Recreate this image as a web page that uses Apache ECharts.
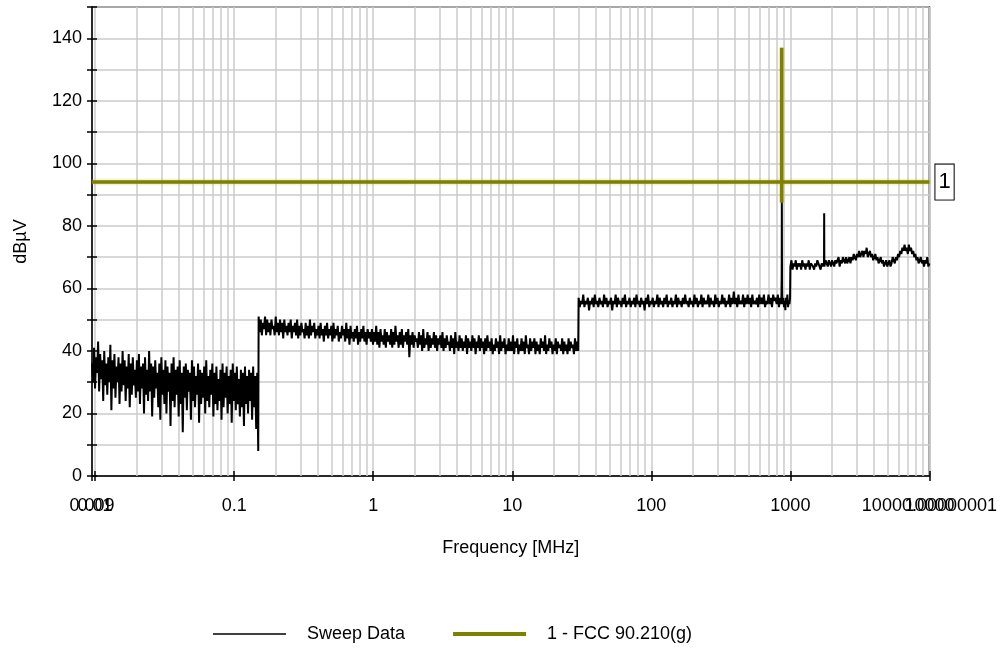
<!DOCTYPE html>
<html><head><meta charset="utf-8">
<script src="https://cdn.jsdelivr.net/npm/echarts@6/dist/echarts.min.js"></script>
<style>html,body{margin:0;padding:0;background:#fff}#c{width:1000px;height:651px}</style>
</head><body><div id="c"></div>
<script>
// ---- axis ranges and tick labels ----
const xMin = 0.0095;
const xMax = 10000.00000001;
const xTickLabels = ['0.009','0.01','0.1','1','10','100','1000','10000','10000.00000001'];
const yMin = 0, yMax = 150;

// ---- sweep data: each band is a sweep from start to stop (MHz) with read levels (dBµV) ----
const sweepEdges = [[0.0095,0.149],[0.15,29.8],[30,860],[880,995],[1000,1740],[1760,10000]];
const levels1 = [36,30,41,28,38,33,43,27,39,31,37,24,40,29,36,26,38,30,42,21,37,28,39,25,35,30,38,23,36,27,40,29,37,24,35,28,39,22,36,26,38,29,34,25,37,27,39,23,35,28,36,20,38,26,34,24,40,27,36,19,35,25,37,28,33,22,36,18,38,26,34,23,37,20,35,27,33,16,36,24,38,22,34,26,35,19,37,23,33,14,35,25,36,21,34,27,33,18,37,24,35,22,32,26,36,17,34,23,33,25,35,20,37,24,32,22,34,26,36,19,33,23,35,21,31,24,34,18,36,22,33,25,35,20,32,23,34,17,36,24,33,21,35,23,31,19,34,22,33,16,35,23,32,20,34,24,33,18,35,22,32,15,33,8];
const levels2 = [51,46,50,45,49,47,51,45,50,46,49,45,50,47,48,45,51,46,49,45,50,46,49,44,50,46,48,45,49,46,50,44,48,46,49,45,50,44,48,45,49,46,47,44,49,45,48,44,50,45,48,46,49,44,47,45,48,44,49,45,47,43,48,45,49,44,47,45,48,43,49,44,47,45,48,43,46,44,48,45,47,43,49,44,47,42,48,44,46,43,47,44,48,42,46,43,47,44,48,43,46,42,47,44,46,43,
  47,42,46,43,48,42,46,41,47,43,45,42,47,41,46,43,45,42,47,41,46,42,48,43,45,41,46,42,47,41,45,43,46,42,47,38,45,42,46,41,45,43,44,41,46,42,45,40,47,41,44,42,46,40,45,41,44,42,46,41,45,40,44,42,45,41,46,40,44,41,45,42,43,40,45,41,44,39,46,41,43,40,45,41,44,40,43,41,45,39,44,41,43,40,45,41,44,39,43,41,45,40,44,41,43,39,44,40,45,41,43,40,44,39,42,40,44,41,43,39,45,40,43,41,44,39,42,40,44,40,
  43,40,45,39,43,41,44,39,42,40,44,40,43,39,45,41,42,39,44,40,43,41,44,39,43,40,42,39,44,41,43,40,45,39,42,40,44,41,43,39,42,40,44,39,43,41,42,40,44,39,43,40,42,39,44,40,43,41,42,39,44,40,43,40];
const levels3 = [57,54,56,55,58,54,56,55,57,53,56,55,57,54,58,55,56,54,57,55,56,54,58,55,57,54,56,55,57,53,56,55,58,54,57,55,56,54,57,55,58,54,56,55,57,54,56,55,57,54,58,55,56,54,57,55,56,53,57,55,58,54,56,55,57,54,56,55,58,54,57,55,56,54,57,55,58,54,56,55,57,54,56,55,58,54,57,55,56,54,57,55,58,55,56,54,57,55,56,54,58,55,57,54,56,55,58,54,57,55,56,55,58,54,57,55,56,54,58,55,57,54,56,55,58,55,57,54,56,55,58,54,57,55,59,55,57,54,58,55,56,55,58,54,57,55,58,55,57,54,58,55,56,55,57,54,58,55,57,55,58,54,56,55,58,55,57,54,58,56,57,55,58,54,57,55];
const levels3b = [55,57,54,56,53,57,55,58,54,56,55,57];
const levels4a = [67,69,66,68,67,69,66,68,67,68,66,69,67,68,66,68,67,69,66,68,68,67,66,68,67,69,68,67,66,68,67,68];
const levels4b = [67,69,68,67,69,68,67,69,68,67,69,68,68,70,67,69,68,70,69,68,70,68,69,70,68,70,69,71,70,69,71,70,72,70,71,72,70,72,71,73,70,71,72,70,71,69,70,71,69,70,68,69,70,68,69,67,68,69,67,68,69,67,68,70,69,68,70,69,71,70,72,71,73,72,74,72,73,71,74,72,73,71,72,70,71,69,70,68,69,70,68,69,67,69,68,70,67,68];
const sweepLevels = [levels1, levels2, levels3, levels3b, levels4a, levels4b];
const spikes = [[862,57],[866,64],[868,88],[871,61],[874,56],[1745,67],[1750,84],[1755,67]];

// ---- limit line (FCC 90.210(g)) ----
const limitFreq  = [xMin, 866, 866, 866, 866, xMax];
const limitLevel = [94, 94, 137, 87.5, 94, 94];

const seriesNames = ['Sweep Data', '1 - FCC 90.210(g)'];

// build sweep points
const sweepData = [];
sweepEdges.forEach(function (e, b) {
  const lv = sweepLevels[b], n = lv.length;
  for (let i = 0; i < n; i++) {
    sweepData.push([e[0] * Math.pow(e[1] / e[0], i / (n - 1)), lv[i]]);
  }
});
spikes.forEach(function (p) { sweepData.push(p); });
sweepData.sort(function (a, b) { return a[0] - b[0]; });
const limitData = limitFreq.map(function (f, i) { return [f, limitLevel[i]]; });

// minor log gridlines (2..9 in each decade)
const minorGrid = [];
[0.01, 0.1, 1, 10, 100, 1000].forEach(function (d) {
  for (let m = 2; m <= 9; m++) minorGrid.push({ xAxis: d * m });
});

const FONT = "'Liberation Sans', Arial, sans-serif";
const GRID = '#cbcbcb';
const OLIVE = '#7f7f00';
// labels that overlap the min / max labels are drawn by the second (tick) axis
const innerLabelIdx = [1, 7];

const chart = echarts.init(document.getElementById('c'), null, { renderer: 'canvas' });
chart.setOption({
  animation: false,
  backgroundColor: '#fff',
  grid: { left: 92, right: 68, top: 7, bottom: 175, show: true, borderColor: '#000', borderWidth: 1.5, backgroundColor: 'transparent' },
  legend: {
    left: 208, top: 620, itemWidth: 73, itemHeight: 14, itemGap: 48,
    textStyle: { fontFamily: FONT, fontSize: 18, color: '#000', padding: [0, 0, 0, 16] },
    data: [
      { name: seriesNames[0], icon: 'path://M0,0H100V1.8H0Z' },
      { name: seriesNames[1], icon: 'path://M0,0H100V5.5H0Z' }
    ]
  },
  xAxis: [{
    type: 'log', logBase: 10, min: xMin, max: xMax, position: 'bottom',
    name: 'Frequency [MHz]', nameLocation: 'middle', nameGap: 63,
    nameTextStyle: { fontFamily: FONT, fontSize: 18, color: '#000' },
    axisLine: { show: true, lineStyle: { color: '#000', width: 1.5 } },
    axisTick: { show: true, length: 5, lineStyle: { color: '#000', width: 1.5 } },
    axisLabel: { show: true, showMinLabel: true, showMaxLabel: true, hideOverlap: false, margin: 21,
      fontFamily: FONT, fontSize: 18, color: '#000',
      formatter: function (v, i) { return innerLabelIdx.indexOf(i) < 0 && xTickLabels[i] !== undefined ? xTickLabels[i] : ''; } },
    splitLine: { show: true, lineStyle: { color: GRID, width: 1.5 } }
  }, {
    type: 'log', logBase: 10, min: xMin, max: xMax, position: 'bottom', offset: 0,
    axisLine: { show: false },
    axisTick: { show: true, inside: true, length: 5, lineStyle: { color: '#000', width: 1.5 } },
    axisLabel: { show: true, showMinLabel: false, showMaxLabel: false, hideOverlap: false, margin: 21,
      fontFamily: FONT, fontSize: 18, color: '#000',
      formatter: function (v, i) { return innerLabelIdx.indexOf(i) >= 0 ? xTickLabels[i] : ''; } },
    splitLine: { show: false }
  }],
  yAxis: [{
    type: 'value', min: yMin, max: yMax, interval: 10, position: 'left',
    name: 'dBµV', nameLocation: 'middle', nameGap: 62,
    nameTextStyle: { fontFamily: FONT, fontSize: 18, color: '#000' },
    axisLine: { show: true, lineStyle: { color: '#000', width: 1.5 } },
    axisTick: { show: true, length: 5, lineStyle: { color: '#000', width: 1.5 } },
    axisLabel: { margin: 10, fontFamily: FONT, fontSize: 18, color: '#000',
      formatter: function (v) { return v % 20 === 0 ? String(v) : ''; } },
    splitLine: { show: true, lineStyle: { color: GRID, width: 1.5 } }
  }, {
    type: 'value', min: yMin, max: yMax, interval: 10, position: 'left', offset: 0,
    axisLine: { show: false },
    axisTick: { show: true, inside: true, length: 5, lineStyle: { color: '#000', width: 1.5 } },
    axisLabel: { show: false }, splitLine: { show: false }
  }],
  series: [{
    type: 'line', name: '_grid', data: [], silent: true, z: 1,
    markLine: { silent: true, z: 1, symbol: ['none', 'none'], label: { show: false }, animation: false,
      lineStyle: { color: GRID, width: 1.5, type: 'solid' }, emphasis: { disabled: true }, data: minorGrid }
  }, {
    type: 'line', name: seriesNames[0], data: sweepData, z: 3,
    showSymbol: false, symbol: 'none', color: '#000',
    lineStyle: { color: '#000', width: 2 }, itemStyle: { color: '#000' }
  }, {
    type: 'line', name: seriesNames[1], data: limitData, z: 4,
    showSymbol: false, symbol: 'none', color: OLIVE,
    lineStyle: { color: OLIVE, width: 3.5, shadowColor: 'rgba(190,190,60,0.6)', shadowBlur: 3 },
    itemStyle: { color: OLIVE },
    endLabel: { show: true, formatter: '1', distance: 6, fontFamily: FONT, fontSize: 22, color: '#000',
      backgroundColor: '#fff', borderColor: '#000', borderWidth: 1, padding: [7, 3, 6, 3] }
  }]
});
</script></body></html>
